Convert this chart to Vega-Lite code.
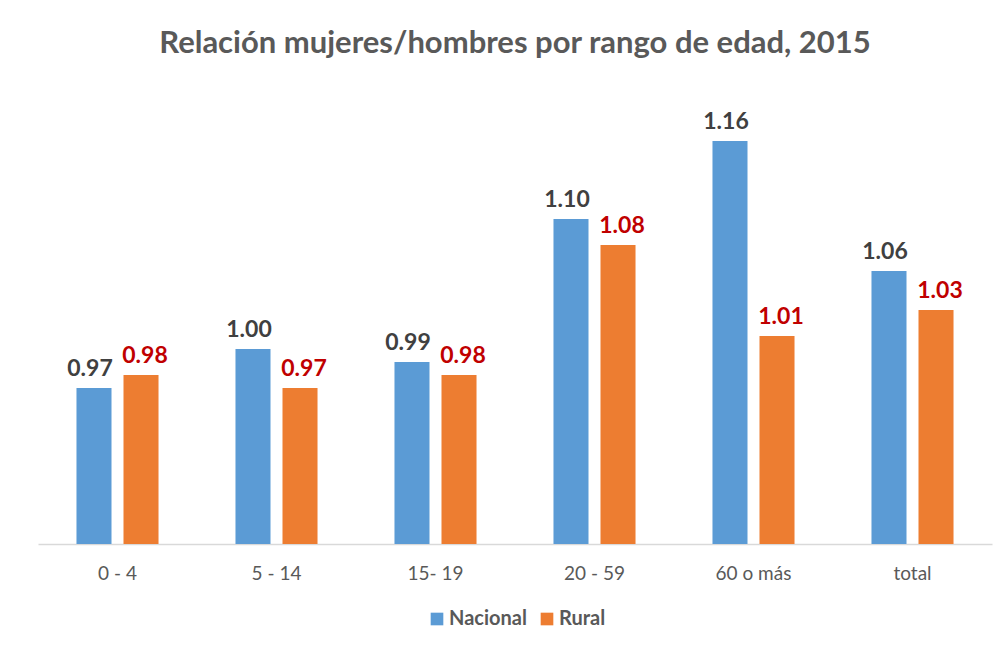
{
  "$schema": "https://vega.github.io/schema/vega-lite/v6.json",
  "autosize": {"type": "none"},
  "width": 954,
  "height": 455,
  "padding": {"left": 38, "top": 89, "right": 7, "bottom": 105},
  "background": "white",
  "title": {
    "text": "Relación mujeres/hombres por rango de edad, 2015",
    "font": "Lato",
    "fontSize": 31,
    "fontWeight": "bold",
    "color": "#595959",
    "anchor": "middle",
    "offset": 29
  },
  "data": {
    "values": [
      {"rango": "0 - 4", "serie": "Nacional", "valor": 0.97},
      {"rango": "0 - 4", "serie": "Rural", "valor": 0.98},
      {"rango": "5 - 14", "serie": "Nacional", "valor": 1.00},
      {"rango": "5 - 14", "serie": "Rural", "valor": 0.97},
      {"rango": "15- 19", "serie": "Nacional", "valor": 0.99},
      {"rango": "15- 19", "serie": "Rural", "valor": 0.98},
      {"rango": "20 - 59", "serie": "Nacional", "valor": 1.10},
      {"rango": "20 - 59", "serie": "Rural", "valor": 1.08},
      {"rango": "60 o más", "serie": "Nacional", "valor": 1.16},
      {"rango": "60 o más", "serie": "Rural", "valor": 1.01},
      {"rango": "total", "serie": "Nacional", "valor": 1.06},
      {"rango": "total", "serie": "Rural", "valor": 1.03}
    ]
  },
  "encoding": {
    "x": {
      "field": "rango",
      "type": "nominal",
      "sort": ["0 - 4", "5 - 14", "15- 19", "20 - 59", "60 o más", "total"],
      "scale": {"paddingInner": 0.484, "paddingOuter": 0.242},
      "axis": {
        "title": null,
        "labelAngle": 0,
        "ticks": false,
        "domainColor": "#D9D9D9",
        "domainWidth": 1.5,
        "labelFont": "Lato",
        "labelFontSize": 19,
        "labelColor": "#595959",
        "labelPadding": 20
      }
    },
    "xOffset": {
      "field": "serie",
      "type": "nominal",
      "scale": {"domain": ["Nacional", "Rural"], "paddingInner": 0.255, "paddingOuter": 0}
    },
    "y": {
      "field": "valor",
      "type": "quantitative",
      "scale": {"domain": [0.85, 1.2], "zero": false, "clamp": true},
      "axis": null
    }
  },
  "layer": [
    {
      "mark": {"type": "bar", "clip": true},
      "encoding": {
        "color": {
          "field": "serie",
          "type": "nominal",
          "scale": {"domain": ["Nacional", "Rural"], "range": ["#5B9BD5", "#ED7D31"]},
          "legend": {
            "title": null,
            "orient": "none",
            "legendX": 389,
            "legendY": 520,
            "direction": "horizontal",
            "symbolType": "square",
            "symbolSize": 160,
            "symbolStrokeWidth": 0,
            "labelOffset": 2,
            "labelFont": "Lato",
            "labelFontSize": 20,
            "labelFontWeight": "bold",
            "labelColor": "#595959",
            "columnPadding": 10
          }
        }
      }
    },
    {
      "transform": [{"filter": "datum.serie === 'Nacional'"}],
      "mark": {
        "type": "text",
        "font": "Lato",
        "fontSize": 23,
        "fontWeight": "bold",
        "baseline": "alphabetic",
        "color": "#404040",
        "dy": -12,
        "dx": -4
      },
      "encoding": {
        "text": {"field": "valor", "type": "quantitative", "format": ".2f"}
      }
    },
    {
      "transform": [{"filter": "datum.serie === 'Rural'"}],
      "mark": {
        "type": "text",
        "font": "Lato",
        "fontSize": 23,
        "fontWeight": "bold",
        "baseline": "alphabetic",
        "color": "#C00000",
        "dy": -12,
        "dx": 4
      },
      "encoding": {
        "text": {"field": "valor", "type": "quantitative", "format": ".2f"}
      }
    }
  ],
  "config": {
    "view": {"stroke": null}
  }
}
